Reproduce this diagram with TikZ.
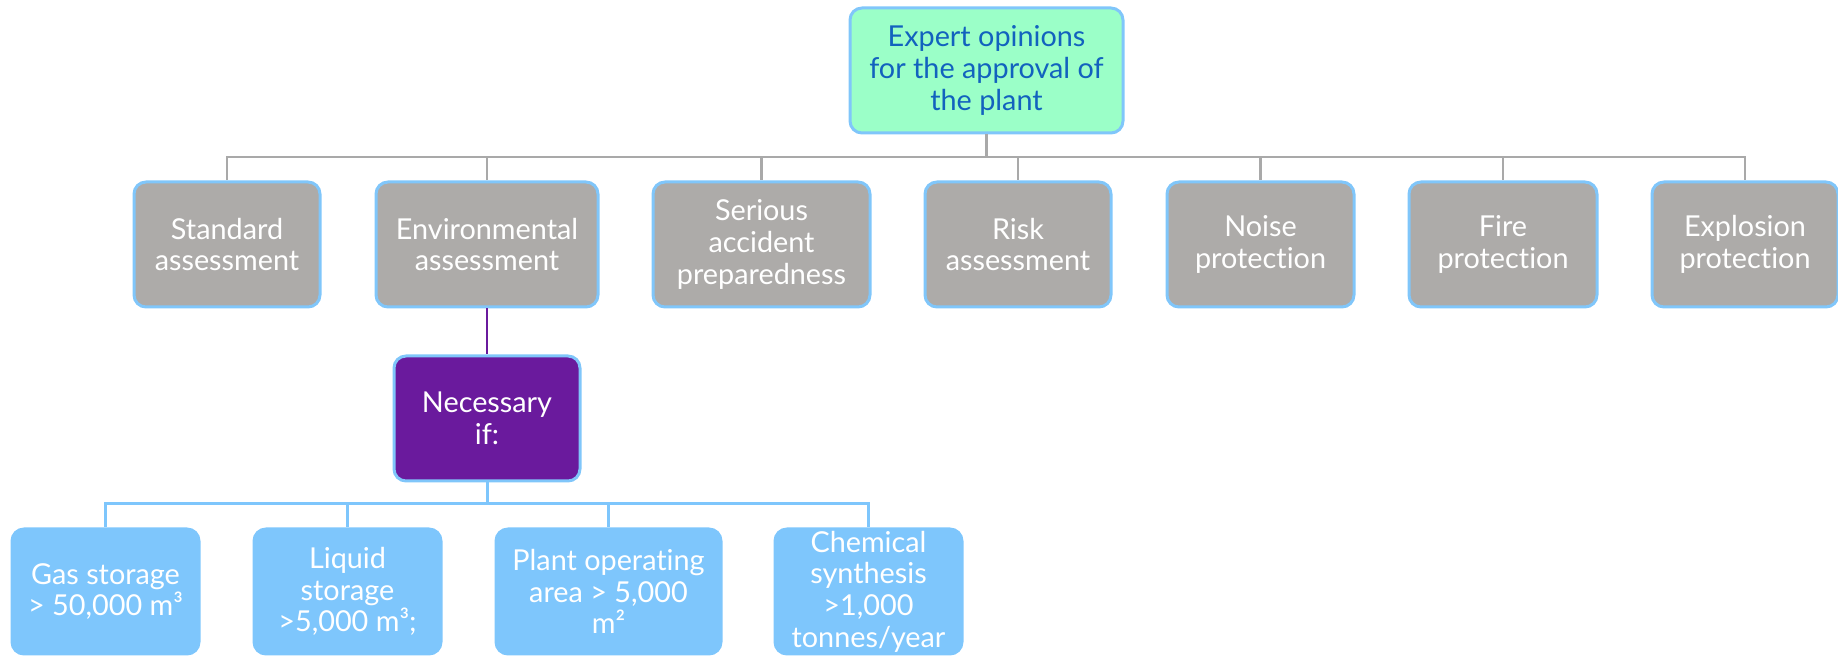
\documentclass[tikz,border=0pt]{standalone}
\usepackage{fontspec}
\setmainfont{Lato}[Ligatures=NoCommon]
\definecolor{mint}{HTML}{9BFFC8}
\definecolor{edgeblue}{HTML}{80C6FA}
\definecolor{topblue}{HTML}{1262BE}
\definecolor{boxgray}{HTML}{ADABA9}
\definecolor{linegray}{HTML}{A9A9A9}
\definecolor{purp}{HTML}{6A1A9D}
\definecolor{lightblue}{HTML}{7EC6FC}
\tikzset{
  base/.style={rounded corners=6pt, line width=1.5pt, draw=edgeblue, align=center,
    minimum height=62.5pt, inner sep=0pt, font=\fontsize{14.4}{15.8}\selectfont},
  topbox/.style={base, fill=mint, text=topblue},
  gbox/.style={base, fill=boxgray, text=white},
  pbox/.style={base, fill=purp, text=white},
  lbox/.style={base, fill=lightblue, draw=lightblue, text=white},
  gline/.style={draw=linegray, line width=1.1pt},
  pline/.style={draw=purp, line width=1.1pt},
  bline/.style={draw=lightblue, line width=1.5pt},
}
\begin{document}
\begin{tikzpicture}[x=0.5pt,y=-0.5pt]
\useasboundingbox (0,0) rectangle (1838,656);
\node[topbox, minimum width=136.5pt] (top) at (986.5,70.5) {Expert opinions\\for the approval of\\the plant};
\node[gbox, minimum width=93pt] (std) at (227,244.5) {Standard\\assessment};
\node[gbox, minimum width=111pt] (env) at (487,244.5) {Environmental\\assessment};
\node[gbox, minimum width=108.5pt] (ser) at (761.5,244.5) {Serious\\accident\\preparedness};
\node[gbox, minimum width=93pt] (risk) at (1018,244.5) {Risk\\assessment};
\node[gbox, minimum width=93.5pt] (noise) at (1260.5,244.5) {Noise\\protection};
\node[gbox, minimum width=94pt] (fire) at (1503,244.5) {Fire\\protection};
\node[gbox, minimum width=93pt] (expl) at (1745,244.5) {Explosion\\protection};
\node[pbox, minimum width=93pt] (nec) at (487,418.5) {Necessary\\if:};
\node[lbox, minimum width=93.5pt] (gas) at (105.5,591.5) {Gas storage\\> 50,000 m³};
\node[lbox, minimum width=93.5pt] (liq) at (347.5,591.5) {Liquid\\storage\\>5,000 m³;};
\node[lbox, minimum width=112.5pt] (plant) at (608.5,591.5) {Plant operating\\area > 5,000\\m²};
\node[lbox, minimum width=93.5pt] (chem) at (868.5,591.5) {Chemical\\synthesis\\>1,000\\tonnes/year};
\coordinate (bus) at (0,157);
\coordinate (bus2) at (0,504);
\foreach \c in {std,env,ser,risk,noise,fire,expl}
  \draw[gline] (top.south) -- (top.south |- bus) -| (\c.north);
\draw[pline] (env.south) -- (nec.north);
\foreach \c in {gas,liq,plant,chem}
  \draw[bline] (nec.south) -- (nec.south |- bus2) -| (\c.north);
\end{tikzpicture}
\end{document}
